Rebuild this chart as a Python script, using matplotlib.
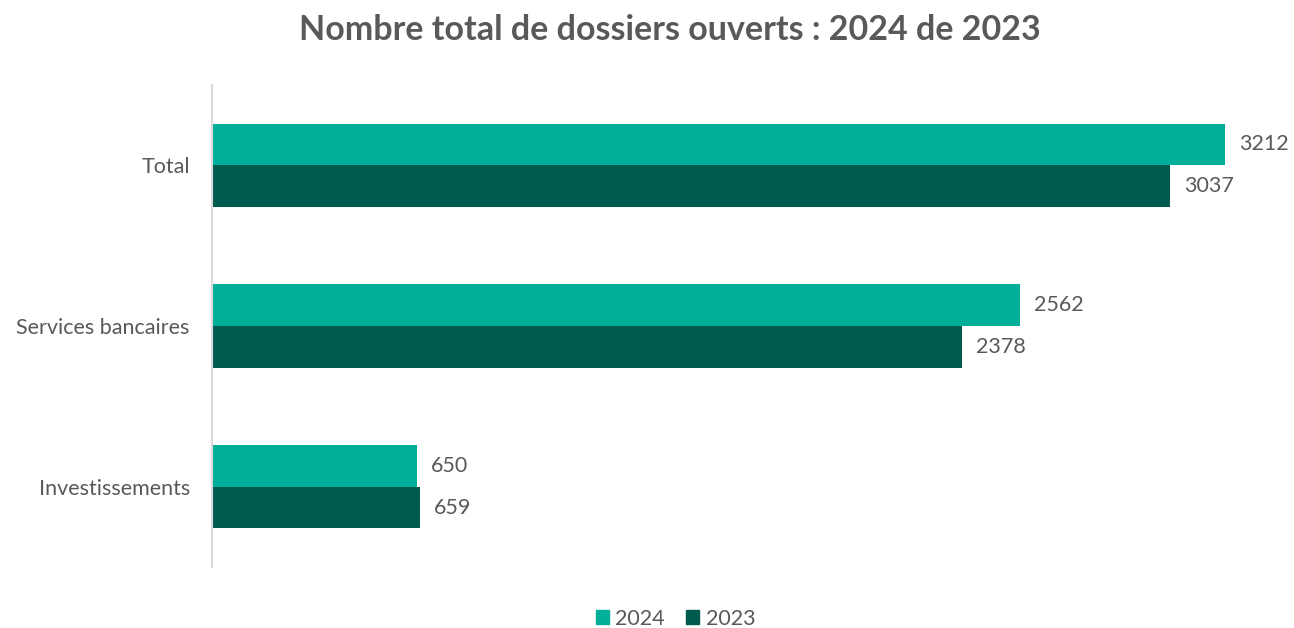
import matplotlib.pyplot as plt
import numpy as np
from matplotlib.patches import Patch

# categories, top to bottom
categories = ["Total", "Services bancaires", "Investissements"]
vals_2024 = [3212, 2562, 650]
vals_2023 = [3037, 2378, 659]

c_2024 = "#00AF9A"
c_2023 = "#005B4F"
grey = "#595959"

plt.rcParams['font.family'] = ['Lato', 'DejaVu Sans']

fig = plt.figure(figsize=(12.94, 6.28), dpi=100)
ax = fig.add_axes([212 / 1294, 61 / 628, 1078 / 1294, 482 / 628])

y = np.arange(len(categories))
h = 0.26
b1 = ax.barh(y - h / 2, vals_2024, height=h, color=c_2024, label="2024")
b2 = ax.barh(y + h / 2, vals_2023, height=h, color=c_2023, label="2023")

for bars in (b1, b2):
    for rect in bars:
        w = rect.get_width()
        ax.text(w + 45, rect.get_y() + rect.get_height() / 2, f"{int(w)}",
                va="center", ha="left", fontsize=15.5, color=grey)

ax.set_ylim(2.5, -0.5)
ax.set_xlim(0, 3418)
ax.set_yticks(y)
ax.set_yticklabels(categories, fontsize=15.5, color=grey)
ax.tick_params(axis="y", length=0, pad=16)
ax.set_xticks([])

for s in ("top", "right", "bottom"):
    ax.spines[s].set_visible(False)
ax.spines["left"].set_color("#D9D9D9")
ax.spines["left"].set_linewidth(1.5)

fig.text(0.518, 0.952, "Nombre total de dossiers ouverts : 2024 de 2023",
         ha="center", va="center", fontsize=24.5, fontweight="bold", color=grey)

handles = [Patch(color=c_2024, label="2024"), Patch(color=c_2023, label="2023")]
fig.legend(handles=handles, loc="center", bbox_to_anchor=(0.522, 0.015),
           ncol=2, frameon=False, fontsize=15.5, labelcolor=grey,
           handlelength=0.6, handleheight=0.6, handletextpad=0.3, columnspacing=1.0)

fig.savefig("out.png", dpi=100)
